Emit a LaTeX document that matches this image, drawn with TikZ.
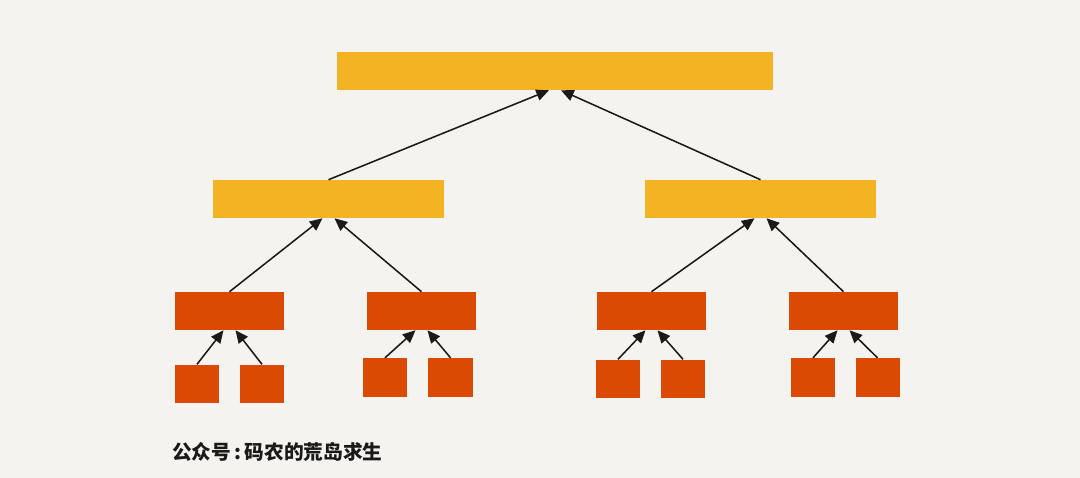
\documentclass[tikz,border=0pt]{standalone}
\usepackage{fontspec}
\newfontfamily\cjk{Noto Sans CJK SC}
\usepackage{tikz}
\usetikzlibrary{arrows.meta,positioning,calc}
\definecolor{paper}{HTML}{F4F3EF}
\definecolor{amber}{HTML}{F4B322}
\definecolor{rust}{HTML}{DA4A02}
\definecolor{ink}{HTML}{1A1A1A}

\begin{document}
\begin{tikzpicture}[x=0.025cm,y=-0.025cm,
    bar/.style={fill=#1,draw=none,inner sep=0pt,minimum height=0.95cm},
    leafbox/.style={fill=rust,draw=none,inner sep=0pt,minimum width=1.1cm,minimum height=0.97cm},
    up/.style={-{Triangle[length=9pt,width=8pt]},ink,line width=1.1pt}]
  \fill[paper] (0,0) rectangle (1080,478);
  % root and the two halves
  \node[bar=amber,minimum width=10.9cm] (root) at (555,71) {};
  \node[bar=amber,minimum width=5.78cm] (left) at (328.5,199) {};
  \node[bar=amber,minimum width=5.78cm] (right) at (760.5,199) {};
  % third row
  \node[bar=rust,minimum width=2.72cm] (a) at (229.5,311) {};
  \node[bar=rust,minimum width=2.72cm] (b) at (421.5,311) {};
  \node[bar=rust,minimum width=2.72cm] (c) at (651.5,311) {};
  \node[bar=rust,minimum width=2.72cm] (d) at (843.5,311) {};
  % leaves
  \node[leafbox] (a1) at (197,384) {};
  \node[leafbox] (a2) at (262,384) {};
  \node[leafbox] (b1) at (385,377.5) {};
  \node[leafbox] (b2) at (450.5,377.5) {};
  \node[leafbox] (c1) at (618,379) {};
  \node[leafbox] (c2) at (683,379) {};
  \node[leafbox] (d1) at (813,377.5) {};
  \node[leafbox] (d2) at (877.5,377.5) {};
  % arrows go up to the parent
  \draw[up] (left.north) -- ($(root.south)+(-6,0)$);
  \draw[up] (right.north) -- ($(root.south)+(6,0)$);
  \draw[up] (a.north) -- ($(left.south)+(-6,0)$);
  \draw[up] (b.north) -- ($(left.south)+(6,0)$);
  \draw[up] (c.north) -- ($(right.south)+(-6,0)$);
  \draw[up] (d.north) -- ($(right.south)+(6,0)$);
  \foreach \p/\k in {a/a,b/b,c/c,d/d}{
    \draw[up] (\k1.north) -- ($(\p.south)+(-6,0)$);
    \draw[up] (\k2.north) -- ($(\p.south)+(6,0)$);
  }
  \node[anchor=west,inner sep=0pt,font=\cjk\bfseries\fontsize{14}{16}\selectfont,ink] (sig) at (172,452) {公众号\,:\,码农的荒岛求生};
\end{tikzpicture}
\end{document}
